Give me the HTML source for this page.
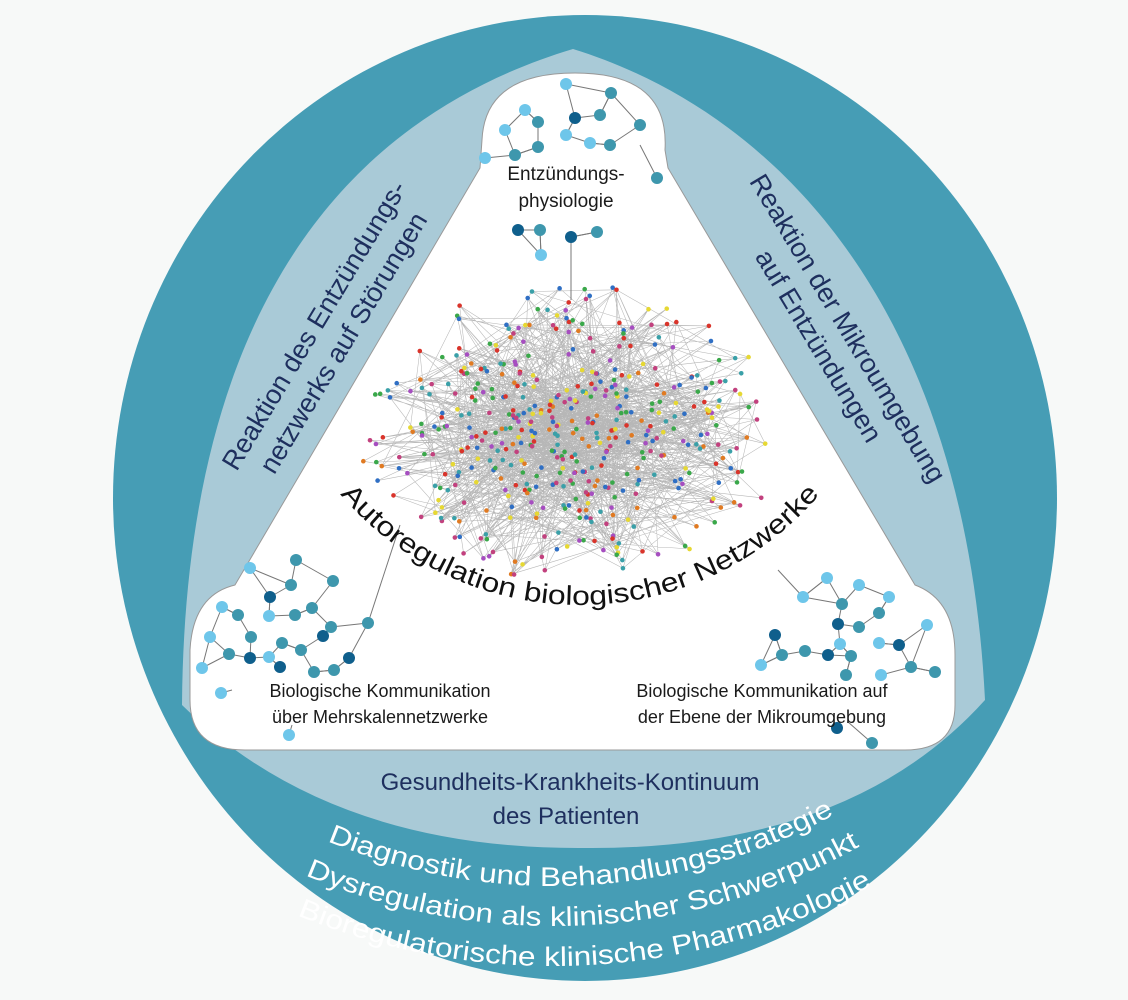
<!DOCTYPE html>
<html><head><meta charset="utf-8"><style>
html,body{margin:0;padding:0;background:#f7f9f8;}
svg{display:block;}
</style></head><body>
<svg id="s" width="1128" height="1000" viewBox="0 0 1128 1000" xmlns="http://www.w3.org/2000/svg">
<rect width="1128" height="1000" fill="#f7f9f8"/>
<ellipse cx="585" cy="498" rx="472" ry="483" fill="#469db5"/>
<path d="M573,49 C370,110 185,280 182,705 Q330,850 585,848 Q850,850 985,700 C965,300 770,110 573,49 Z" fill="#a9cad7"/>
<path d="M575,73 C640,73 668,100 665,150 L668,168 L915,585 Q955,600 955,655 L955,705 Q955,750 905,750 L245,750 Q190,750 190,700 L190,650 Q193,595 235,585 L480,168 L482,140 Q485,73 575,73 Z" fill="#ffffff" stroke="#999" stroke-width="1"/>
<g id="hair"></g>
<g id="net"></g>
<g font-family="'Liberation Sans',sans-serif">
<text x="566" y="180" font-size="19" text-anchor="middle" fill="#1a1a1a">Entzündungs-</text>
<text x="566" y="207" font-size="19" text-anchor="middle" fill="#1a1a1a">physiologie</text>
<g transform="translate(322,330) rotate(-59)" fill="#1e2f5e" font-size="27" text-anchor="middle">
<text x="0" y="0">Reaktion des Entzündungs-</text>
<text x="0" y="34">netzwerks auf Störungen</text>
</g>
<g transform="translate(840,333) rotate(59)" fill="#1e2f5e" font-size="27" text-anchor="middle">
<text x="0" y="0">Reaktion der Mikroumgebung</text>
<text x="0" y="34">auf Entzündungen</text>
</g>
<text x="380" y="697" font-size="18" text-anchor="middle" fill="#1a1a1a">Biologische Kommunikation</text>
<text x="380" y="723" font-size="18" text-anchor="middle" fill="#1a1a1a">über Mehrskalennetzwerke</text>
<text x="762" y="697" font-size="18" text-anchor="middle" fill="#1a1a1a">Biologische Kommunikation auf</text>
<text x="762" y="723" font-size="18" text-anchor="middle" fill="#1a1a1a">der Ebene der Mikroumgebung</text>
<text x="570" y="790" font-size="24" text-anchor="middle" fill="#1e2f5e">Gesundheits-Krankheits-Kontinuum</text>
<text x="566" y="824" font-size="24" text-anchor="middle" fill="#1e2f5e">des Patienten</text>
<defs>
<path id="a0" d="M265,290 A315,315 0 0 0 895,290"/>
<path id="a1" d="M-37,296 A590,590 0 0 0 1143,296"/>
<path id="a2" d="M-77,296 A630,630 0 0 0 1183,296"/>
<path id="a3" d="M-117,296 A670,670 0 0 0 1223,296"/>
</defs>
<text font-size="27" fill="#111"><textPath href="#a0" startOffset="50%" text-anchor="middle" textLength="545" lengthAdjust="spacingAndGlyphs">Autoregulation biologischer Netzwerke</textPath></text>
<g transform="rotate(-3 553 296)" fill="#fff" font-size="27">
<text><textPath href="#a1" startOffset="50%" text-anchor="middle" textLength="525" lengthAdjust="spacingAndGlyphs">Diagnostik und Behandlungsstrategie</textPath></text>
<text><textPath href="#a2" startOffset="50%" text-anchor="middle" textLength="575" lengthAdjust="spacingAndGlyphs">Dysregulation als klinischer Schwerpunkt</textPath></text>
<text><textPath href="#a3" startOffset="50%" text-anchor="middle" textLength="595" lengthAdjust="spacingAndGlyphs">Bioregulatorische klinische Pharmakologie</textPath></text>
</g>
</g>
</svg>
<script>
(function(){
var NS="http://www.w3.org/2000/svg";
function el(p,t,a){var e=document.createElementNS(NS,t);for(var k in a)e.setAttribute(k,a[k]);p.appendChild(e);return e;}
var L="#6ec6ea",T="#3e97ad",D="#0f5f8c";
var net=document.getElementById("net");
var groups=[
[[566,84,L],[611,93,T],[525,110,L],[575,118,D],[600,115,T],[538,122,T],[640,125,T],[505,130,L],[566,135,L],[590,143,L],[610,145,T],[538,147,T],[485,158,L],[515,155,T]],
[[518,230,D],[540,230,T],[571,237,D],[597,232,T],[541,255,L]],
[[296,560,T],[250,568,L],[291,585,T],[333,581,T],[270,597,D],[222,607,L],[312,608,T],[238,615,T],[269,616,L],[295,615,T],[368,623,T],[331,627,T],[323,636,D],[251,637,T],[210,637,L],[282,643,T],[301,650,T],[229,654,T],[250,658,D],[349,658,D],[269,657,L],[202,668,L],[280,667,D],[334,670,T],[314,672,T]],
[[827,578,L],[859,585,L],[803,597,L],[889,597,L],[842,604,T],[879,613,T],[927,625,L],[838,624,D],[859,627,T],[775,635,D],[840,644,L],[879,643,L],[899,645,D],[805,651,T],[782,655,T],[828,655,D],[851,656,T],[761,665,L],[911,667,T],[935,672,T],[846,675,T],[881,675,L]]
];
var lines=[[571,237,571,300],[368,623,400,525],[803,597,778,570],[657,178,640,145],[221,693,232,690],[289,735,292,725],[872,743,848,722]];
lines.forEach(function(l){el(net,"line",{x1:l[0],y1:l[1],x2:l[2],y2:l[3],stroke:"#777","stroke-width":1});});
groups.forEach(function(g){
 g.forEach(function(n,i){
  var d=g.map(function(m,j){return [j,(m[0]-n[0])*(m[0]-n[0])+(m[1]-n[1])*(m[1]-n[1])];}).filter(function(x){return x[0]!=i;}).sort(function(a,b){return a[1]-b[1];});
  for(var k=0;k<Math.min(2,d.length);k++){if(d[k][0]>i||k==0){var m=g[d[k][0]];el(net,"line",{x1:n[0],y1:n[1],x2:m[0],y2:m[1],stroke:"#777","stroke-width":1});}}
 });
});
groups.concat([[[657,178,T],[221,693,L],[289,735,L],[872,743,T],[837,728,D]]]).forEach(function(g){g.forEach(function(n){el(net,"circle",{cx:n[0],cy:n[1],r:6,fill:n[2]});});});
var seed=12345;function r(){seed=(seed*1103515245+12345)%2147483648;return seed/2147483648;}
function g(){return (r()+r()-1);}
var hair=document.getElementById("hair");var pts=[];
while(pts.length<480){var x=568+g()*240,y=432+g()*160;var dx=(x-568)/225,dy=(y-432)/148;if(dx*dx+dy*dy<1)pts.push([x,y]);}
var cols=["#d9342b","#3aa84a","#2f6fc4","#a64ec0","#e6d833","#e07a22","#3aa0a8","#c2417e"];
var ls="";
pts.forEach(function(p,i){for(var k=0;k<2;k++){var q=pts[Math.floor(r()*pts.length)];ls+="M"+p[0].toFixed(1)+","+p[1].toFixed(1)+"L"+q[0].toFixed(1)+","+q[1].toFixed(1);}});
el(hair,"path",{d:ls,stroke:"#999","stroke-width":0.55,fill:"none","stroke-opacity":0.7});
pts.forEach(function(p){el(hair,"circle",{cx:p[0],cy:p[1],r:2.3,fill:cols[Math.floor(r()*cols.length)]});});
})();
</script>
</body></html>
